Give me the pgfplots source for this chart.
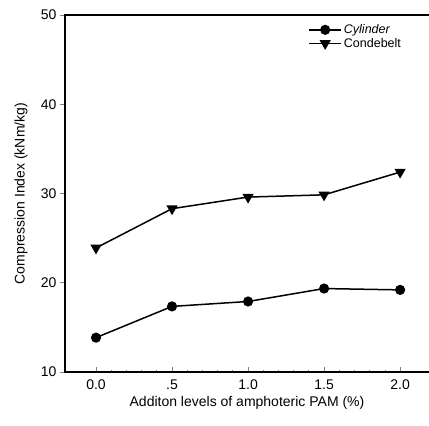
\documentclass[border=0pt]{standalone}
\usepackage{pgfplots}
\pgfplotsset{compat=1.18}
\usepackage{fontspec}
\setmainfont{Liberation Sans}

\begin{document}
\begin{tikzpicture}
\useasboundingbox (-65pt,-54pt) rectangle (364pt,372pt);
\begin{axis}[
  at={(0pt,0pt)}, anchor=south west,
  scale only axis,
  width=364pt, height=357pt,
  xmin=-0.204, xmax=2.19,
  ymin=10, ymax=50,
  axis line style={draw=none},
  xtick={0,0.5,1,1.5,2},
  xticklabels={0.0,.5,1.0,1.5,2.0},
  ytick={10,20,30,40,50},
  yticklabels={10,20,30,40,50},
  xtick pos=left,
  ytick pos=left,
  x tick style={line width=0.8pt},
  xtick align=inside,
  minor x tick num=4,
  minor tick length=2pt,
  ytick align=outside,
  y tick style={line width=0.8pt},
  major tick length=5pt,
  tick label style={font=\fontsize{14}{16}\selectfont},
  xlabel={Additon levels of amphoteric PAM (\%)},
  xlabel style={font=\fontsize{14}{16}\selectfont},
  xticklabel style={yshift=-4pt},
  legend style={draw=none, fill=none, at={(0.66,0.985)}, anchor=north west,
    font=\fontsize{12.5}{14}\selectfont, row sep=-1pt},
  legend cell align=left,
  legend image code/.code={
    \draw[mark repeat=2, mark phase=2, line width=1.5pt, #1] plot coordinates {(0pt,0pt) (16pt,0pt) (32pt,0pt)};
  },
  every axis plot/.append style={line width=1.5pt, black},
  clip=false,
]
\draw[line width=1.2pt] (rel axis cs:1,0) -- (rel axis cs:0,0) -- (rel axis cs:0,1) -- (rel axis cs:1,1);
\node[rotate=90, font=\fontsize{14}{16}\selectfont] at ([xshift=-44pt]rel axis cs:0,0.5) {Compression Index (kNm/kg)};
\addplot[mark=*, mark size=4.3pt] coordinates {
  (0.0,13.85) (0.5,17.35) (1.0,17.9) (1.5,19.35) (2.0,19.2)
};
\addlegendentry{\itshape Cylinder}
\addplot[mark=triangle*, mark size=5pt, mark options={rotate=180}] coordinates {
  (0.0,23.9) (0.5,28.3) (1.0,29.6) (1.5,29.85) (2.0,32.4)
};
\addlegendentry{Condebelt}
\end{axis}
\end{tikzpicture}
\end{document}
